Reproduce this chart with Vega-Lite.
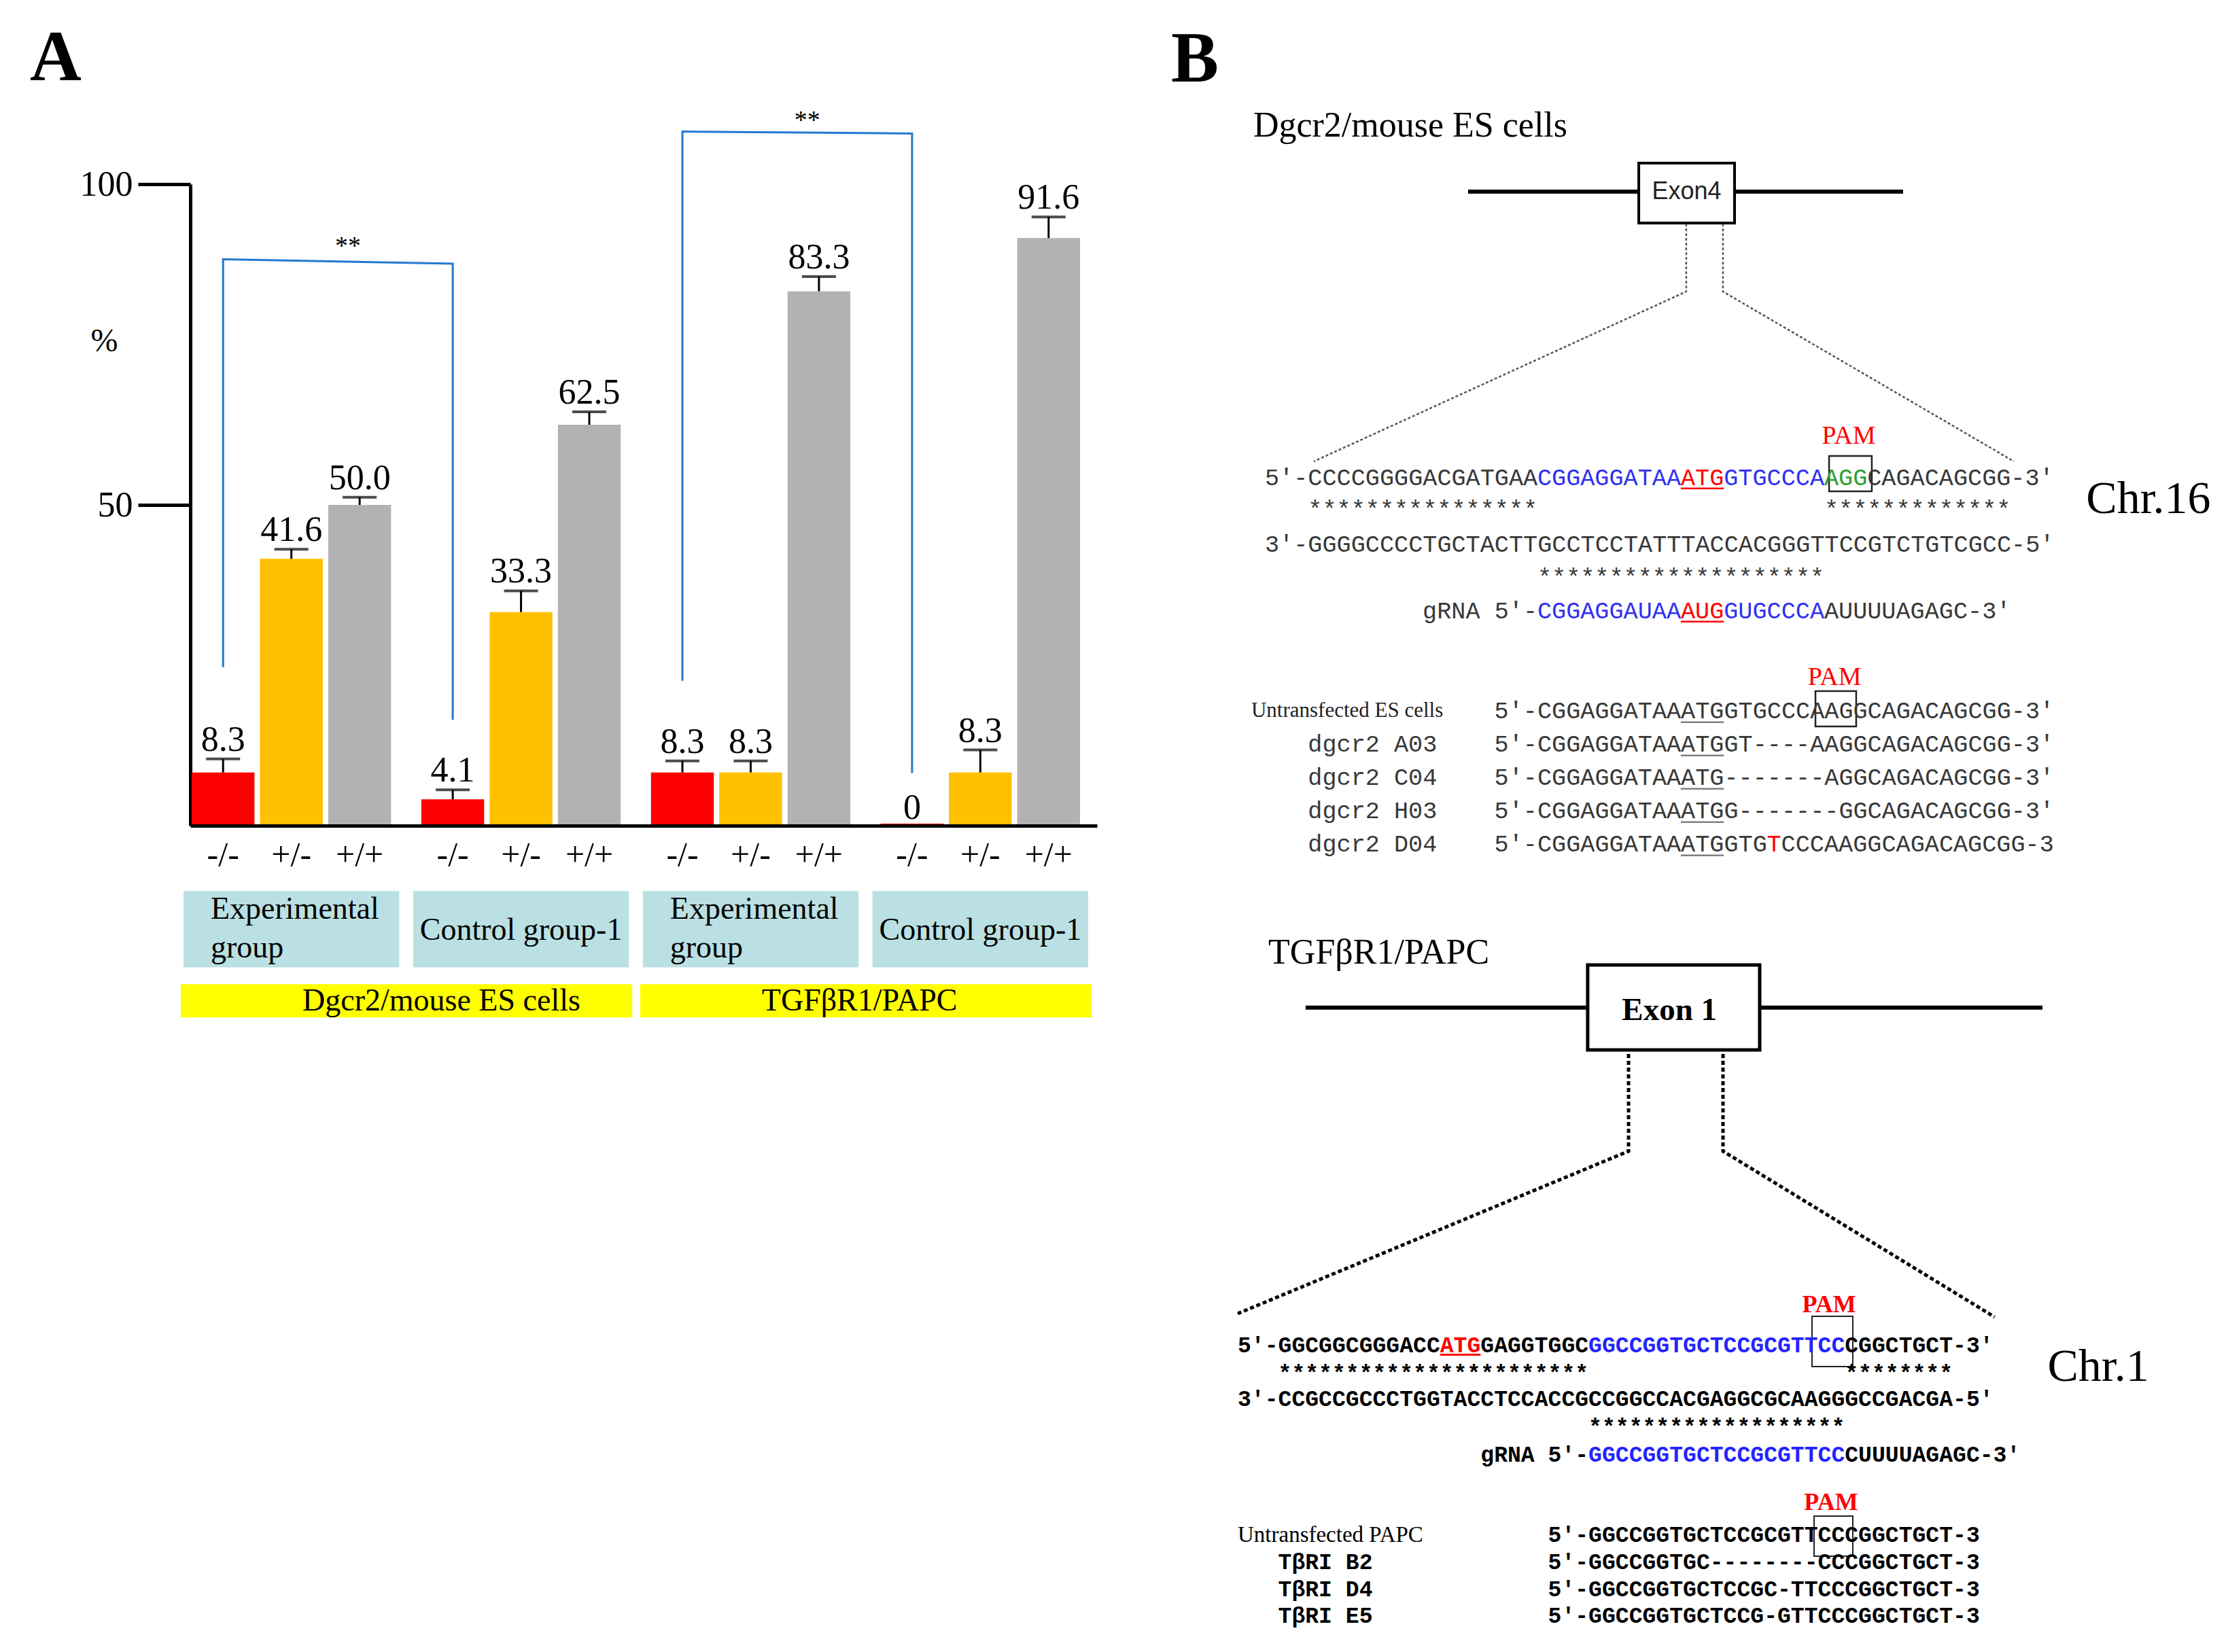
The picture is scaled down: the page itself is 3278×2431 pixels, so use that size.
{
  "$schema": "https://vega.github.io/schema/vega-lite/v6.json",
  "width": 3278,
  "height": 2431,
  "autosize": {"type": "fit", "contains": "padding"},
  "padding": 0,
  "background": "white",
  "config": {"view": {"stroke": null}, "font": "Liberation Serif"},
  "datasets": {
    "bars": [
      {"group": "D-Exp", "geno": "-/-", "pct": 8.3, "cap": 10.4, "label": "8.3"},
      {"group": "D-Exp", "geno": "+/-", "pct": 41.6, "cap": 43.1, "label": "41.6"},
      {"group": "D-Exp", "geno": "+/+", "pct": 50.0, "cap": 51.2, "label": "50.0"},
      {"group": "D-Ctrl", "geno": "-/-", "pct": 4.1, "cap": 5.6, "label": "4.1"},
      {"group": "D-Ctrl", "geno": "+/-", "pct": 33.3, "cap": 36.6, "label": "33.3"},
      {"group": "D-Ctrl", "geno": "+/+", "pct": 62.5, "cap": 64.5, "label": "62.5"},
      {"group": "T-Exp", "geno": "-/-", "pct": 8.3, "cap": 10.1, "label": "8.3"},
      {"group": "T-Exp", "geno": "+/-", "pct": 8.3, "cap": 10.1, "label": "8.3"},
      {"group": "T-Exp", "geno": "+/+", "pct": 83.3, "cap": 85.6, "label": "83.3"},
      {"group": "T-Ctrl", "geno": "-/-", "pct": 0, "cap": null, "label": "0"},
      {"group": "T-Ctrl", "geno": "+/-", "pct": 8.3, "cap": 11.8, "label": "8.3"},
      {"group": "T-Ctrl", "geno": "+/+", "pct": 91.6, "cap": 94.9, "label": "91.6"}
    ],
    "groups": [
      {"group": "D-Exp", "name": "Experimental\ngroup", "kind": "exp"},
      {"group": "D-Ctrl", "name": "Control group-1", "kind": "ctrl"},
      {"group": "T-Exp", "name": "Experimental\ngroup", "kind": "exp"},
      {"group": "T-Ctrl", "name": "Control group-1", "kind": "ctrl"}
    ],
    "sets": [
      {"set": "Dgcr2/mouse ES cells", "first": "D-Exp", "last": "D-Ctrl"},
      {"set": "TGFβR1/PAPC", "first": "T-Exp", "last": "T-Ctrl"}
    ],
    "brackets": [
      {"b": 1, "seq": 0, "group": "D-Exp", "geno": "-/-", "v": 24.7},
      {"b": 1, "seq": 1, "group": "D-Exp", "geno": "-/-", "v": 88.3},
      {"b": 1, "seq": 2, "group": "D-Ctrl", "geno": "-/-", "v": 87.6},
      {"b": 1, "seq": 3, "group": "D-Ctrl", "geno": "-/-", "v": 16.5},
      {"b": 2, "seq": 0, "group": "T-Exp", "geno": "-/-", "v": 22.6},
      {"b": 2, "seq": 1, "group": "T-Exp", "geno": "-/-", "v": 108.2},
      {"b": 2, "seq": 2, "group": "T-Ctrl", "geno": "-/-", "v": 107.9},
      {"b": 2, "seq": 3, "group": "T-Ctrl", "geno": "-/-", "v": 8.2}
    ],
    "signif": [
      {"group": "D-Exp", "v": 91.1, "t": "**"},
      {"group": "T-Exp", "v": 110.7, "t": "**"}
    ],
    "btSeq": [
      {"row": 0, "col": 0, "s": "5′-CCCCGGGGACGATGAA", "role": "flank"},
      {"row": 0, "col": 19, "s": "CGGAGGATAA", "role": "spacer"},
      {"row": 0, "col": 29, "s": "ATG", "role": "atg"},
      {"row": 0, "col": 32, "s": "GTGCCCA", "role": "spacer"},
      {"row": 0, "col": 39, "s": "AGG", "role": "pam"},
      {"row": 0, "col": 42, "s": "CAGACAGCGG-3′", "role": "flank"},
      {"row": 0.95, "col": 3, "s": "****************", "role": "match"},
      {"row": 0.95, "col": 39, "s": "*************", "role": "match"},
      {"row": 2, "col": 0, "s": "3′-GGGGCCCCTGCTACTTGCCTCCTATTTACCACGGGTTCCGTCTGTCGCC-5′", "role": "flank"},
      {"row": 3.0, "col": 19, "s": "********************", "role": "match"},
      {"row": 4, "col": 11, "s": "gRNA 5′-", "role": "flank"},
      {"row": 4, "col": 19, "s": "CGGAGGAUAA", "role": "spacer"},
      {"row": 4, "col": 29, "s": "AUG", "role": "atg"},
      {"row": 4, "col": 32, "s": "GUGCCCA", "role": "spacer"},
      {"row": 4, "col": 39, "s": "AUUUUAGAGC-3′", "role": "flank"},
      {"row": 7, "col": 16, "s": "5′-CGGAGGATAAATGGTGCCCAAGGCAGACAGCGG-3′", "role": "flank"},
      {"row": 8, "col": 3, "s": "dgcr2 A03", "role": "flank"},
      {"row": 8, "col": 16, "s": "5′-CGGAGGATAAATGGT----AAGGCAGACAGCGG-3′", "role": "flank"},
      {"row": 9, "col": 3, "s": "dgcr2 C04", "role": "flank"},
      {"row": 9, "col": 16, "s": "5′-CGGAGGATAAATG-------AGGCAGACAGCGG-3′", "role": "flank"},
      {"row": 10, "col": 3, "s": "dgcr2 H03", "role": "flank"},
      {"row": 10, "col": 16, "s": "5′-CGGAGGATAAATGG-------GGCAGACAGCGG-3′", "role": "flank"},
      {"row": 11, "col": 3, "s": "dgcr2 D04", "role": "flank"},
      {"row": 11, "col": 16, "s": "5′-CGGAGGATAAATGGTG", "role": "flank"},
      {"row": 11, "col": 35, "s": "T", "role": "mut"},
      {"row": 11, "col": 36, "s": "CCCAAGGCAGACAGCGG-3", "role": "flank"}
    ],
    "btUnder": [
      {"row": 0.32, "start": 29, "end": 32, "role": "atg"},
      {"row": 4.32, "start": 29, "end": 32, "role": "atg"},
      {"row": 7.34, "start": 29, "end": 32, "role": "mark"},
      {"row": 8.34, "start": 29, "end": 32, "role": "mark"},
      {"row": 9.34, "start": 29, "end": 32, "role": "mark"},
      {"row": 10.34, "start": 29, "end": 32, "role": "mark"},
      {"row": 11.34, "start": 29, "end": 32, "role": "mark"}
    ],
    "bbSeq": [
      {"row": 0, "col": 0, "s": "5′-GGCGGCGGGACC", "role": "flank"},
      {"row": 0, "col": 15, "s": "ATG", "role": "atg"},
      {"row": 0, "col": 18, "s": "GAGGTGGC", "role": "flank"},
      {"row": 0, "col": 26, "s": "GGCCGGTGCTCCGCGTTCC", "role": "spacer"},
      {"row": 0, "col": 45, "s": "CGGCTGCT-3′", "role": "flank"},
      {"row": 1.02, "col": 3, "s": "***********************", "role": "match"},
      {"row": 1.02, "col": 45, "s": "********", "role": "match"},
      {"row": 1.975, "col": 0, "s": "3′-CCGCCGCCCTGGTACCTCCACCGCCGGCCACGAGGCGCAAGGGCCGACGA-5′", "role": "flank"},
      {"row": 3.0, "col": 26, "s": "*******************", "role": "match"},
      {"row": 4.03, "col": 18, "s": "gRNA 5′-", "role": "flank"},
      {"row": 4.03, "col": 26, "s": "GGCCGGTGCTCCGCGTTCC", "role": "spacer"},
      {"row": 4.03, "col": 45, "s": "CUUUUAGAGC-3′", "role": "flank"},
      {"row": 6.98, "col": 23, "s": "5′-GGCCGGTGCTCCGCGTTCCCGGCTGCT-3", "role": "flank"},
      {"row": 7.98, "col": 3, "s": "TβRI B2", "role": "flank"},
      {"row": 7.98, "col": 23, "s": "5′-GGCCGGTGC--------CCCGGCTGCT-3", "role": "flank"},
      {"row": 8.98, "col": 3, "s": "TβRI D4", "role": "flank"},
      {"row": 8.98, "col": 23, "s": "5′-GGCCGGTGCTCCGC-TTCCCGGCTGCT-3", "role": "flank"},
      {"row": 9.95, "col": 3, "s": "TβRI E5", "role": "flank"},
      {"row": 9.95, "col": 23, "s": "5′-GGCCGGTGCTCCG-GTTCCCGGCTGCT-3", "role": "flank"}
    ]
  },
  "layer": [
    {
      "layer": [
        {
          "data": {"name": "groups"},
          "mark": {"type": "rect", "color": "#bae0e3", "xOffset": -10, "x2Offset": 10},
          "encoding": {
            "x": {"field": "group", "type": "nominal", "bandPosition": 0,
              "scale": {"type": "band", "domain": ["D-Exp", "D-Ctrl", "T-Exp", "T-Ctrl"], "range": [280, 1614], "paddingInner": 0.12, "paddingOuter": 0.034, "align": 0},
              "axis": {"orient": "top", "offset": -1215, "labels": false, "ticks": false, "title": null, "domainWidth": 5, "domainColor": "black", "grid": false}},
            "x2": {"field": "group", "bandPosition": 1},
            "y": {"datum": -10.2, "type": "quantitative",
              "scale": {"type": "linear", "domain": [0, 100], "range": [1215, 271], "nice": false, "zero": false},
              "axis": {"orient": "left", "offset": -280, "values": [50, 100], "title": "%", "titleAngle": 0, "titleX": -127, "titleY": 502, "titleFont": "Liberation Serif", "titleFontSize": 48, "titleFontWeight": "normal", "titleColor": "black", "titleAlign": "center", "titleBaseline": "middle", "labelFont": "Liberation Serif", "labelFontSize": 52, "labelColor": "black", "labelPadding": 8, "tickSize": 77, "tickWidth": 5, "tickColor": "black", "domainWidth": 5, "domainColor": "black", "grid": false, "labelFlush": false, "labelOverlap": false}},
            "y2": {"datum": -22.1}
          }
        },
        {
          "data": {"name": "sets"},
          "mark": {"type": "rect", "color": "#ffff00", "xOffset": -14, "x2Offset": 15},
          "encoding": {
            "x": {"field": "first", "type": "nominal", "bandPosition": 0},
            "x2": {"field": "last", "bandPosition": 1},
            "y": {"datum": -24.7, "type": "quantitative"},
            "y2": {"datum": -29.9}
          }
        },
        {
          "data": {"name": "sets"},
          "mark": {"type": "text", "font": "Liberation Serif", "fontSize": 46, "align": "left", "baseline": "middle", "color": "black"},
          "encoding": {
            "x": {"field": "first", "type": "nominal", "bandPosition": 0.555},
            "y": {"datum": -27.3, "type": "quantitative"},
            "text": {"field": "set"}
          }
        },
        {
          "data": {"name": "groups"},
          "transform": [{"filter": "datum.kind == 'exp'"}],
          "mark": {"type": "text", "font": "Liberation Serif", "fontSize": 46, "align": "left", "baseline": "middle", "lineBreak": "\n", "lineHeight": 57, "dx": 30, "color": "black"},
          "encoding": {
            "x": {"field": "group", "type": "nominal", "bandPosition": 0},
            "y": {"datum": -13.0, "type": "quantitative"},
            "text": {"field": "name"}
          }
        },
        {
          "data": {"name": "groups"},
          "transform": [{"filter": "datum.kind == 'ctrl'"}],
          "mark": {"type": "text", "font": "Liberation Serif", "fontSize": 46, "align": "center", "baseline": "middle", "color": "black"},
          "encoding": {
            "x": {"field": "group", "type": "nominal", "bandPosition": 0.5},
            "y": {"datum": -16.3, "type": "quantitative"},
            "text": {"field": "name"}
          }
        },
        {
          "data": {"name": "brackets"},
          "mark": {"type": "line", "color": "#2379cf", "strokeWidth": 3},
          "encoding": {
            "x": {"field": "group", "type": "nominal"},
            "xOffset": {"field": "geno", "type": "nominal"},
            "y": {"field": "v", "type": "quantitative"},
            "detail": {"field": "b"},
            "order": {"field": "seq"}
          }
        },
        {
          "data": {"name": "signif"},
          "mark": {"type": "text", "font": "Liberation Serif", "fontSize": 38, "align": "center", "baseline": "middle", "dy": 8, "color": "black"},
          "encoding": {
            "x": {"field": "group", "type": "nominal", "bandPosition": 0.78},
            "y": {"field": "v", "type": "quantitative"},
            "text": {"field": "t"}
          }
        },
        {
          "data": {"name": "bars"},
          "mark": {"type": "bar"},
          "encoding": {
            "x": {"field": "group", "type": "nominal"},
            "xOffset": {"field": "geno", "type": "nominal", "scale": {"type": "band", "domain": ["-/-", "+/-", "+/+"], "paddingInner": 0.08, "paddingOuter": 0.02}},
            "y": {"field": "pct", "type": "quantitative"},
            "color": {"field": "geno", "type": "nominal", "scale": {"domain": ["-/-", "+/-", "+/+"], "range": ["#ff0000", "#ffc000", "#b2b2b2"]}, "legend": null},
            "stroke": {"field": "geno", "type": "nominal", "scale": {"domain": ["-/-", "+/-", "+/+"], "range": ["#ff0000", "#ffc000", "#b2b2b2"]}, "legend": null},
            "strokeWidth": {"condition": {"test": "datum.pct === 0", "value": 6}, "value": 0}
          }
        },
        {
          "data": {"name": "bars"},
          "transform": [{"filter": "datum.cap != null"}],
          "mark": {"type": "rule", "color": "black", "strokeWidth": 3},
          "encoding": {
            "x": {"field": "group", "type": "nominal"},
            "xOffset": {"field": "geno", "type": "nominal"},
            "y": {"field": "pct", "type": "quantitative"},
            "y2": {"field": "cap"}
          }
        },
        {
          "data": {"name": "bars"},
          "transform": [{"filter": "datum.cap != null"}],
          "mark": {"type": "tick", "color": "black", "thickness": 4, "size": 50},
          "encoding": {
            "x": {"field": "group", "type": "nominal"},
            "xOffset": {"field": "geno", "type": "nominal"},
            "y": {"field": "cap", "type": "quantitative"}
          }
        },
        {
          "data": {"name": "bars"},
          "transform": [{"filter": "datum.cap != null"}],
          "mark": {"type": "text", "font": "Liberation Serif", "fontSize": 52, "align": "center", "baseline": "alphabetic", "dy": -12, "color": "black"},
          "encoding": {
            "x": {"field": "group", "type": "nominal"},
            "xOffset": {"field": "geno", "type": "nominal"},
            "y": {"field": "cap", "type": "quantitative"},
            "text": {"field": "label"}
          }
        },
        {
          "data": {"name": "bars"},
          "transform": [{"filter": "datum.cap == null"}],
          "mark": {"type": "text", "font": "Liberation Serif", "fontSize": 52, "align": "center", "baseline": "alphabetic", "dy": -10, "color": "black"},
          "encoding": {
            "x": {"field": "group", "type": "nominal"},
            "xOffset": {"field": "geno", "type": "nominal"},
            "y": {"field": "pct", "type": "quantitative"},
            "text": {"field": "label"}
          }
        },
        {
          "data": {"name": "bars"},
          "mark": {"type": "text", "font": "Liberation Serif", "fontSize": 50, "align": "center", "baseline": "middle", "dy": 44, "color": "black"},
          "encoding": {
            "x": {"field": "group", "type": "nominal"},
            "xOffset": {"field": "geno", "type": "nominal"},
            "y": {"datum": 0, "type": "quantitative"},
            "text": {"field": "geno"}
          }
        }
      ]
    },
    {
      "layer": [
        {
          "data": {"values": [{"start": 14.17, "end": 44.5, "row": -8.59}]},
          "mark": {"type": "rule", "strokeWidth": 6, "color": "black"},
          "encoding": {
            "x": {"field": "start", "type": "quantitative", "scale": {"domain": [0, 60], "range": [1861, 3127], "nice": false, "zero": false}, "axis": null},
            "x2": {"field": "end"},
            "y": {"field": "row", "type": "quantitative", "scale": {"domain": [0, 10], "range": [703, 1193], "nice": false, "zero": false}, "axis": null}
          }
        },
        {
          "data": {"values": [{"start": 26.07, "end": 32.75, "top": -9.45, "bottom": -7.65}]},
          "mark": {"type": "rect", "fill": "white", "stroke": "black", "strokeWidth": 4},
          "encoding": {
            "x": {"field": "start", "type": "quantitative"},
            "x2": {"field": "end"},
            "y": {"field": "top", "type": "quantitative"},
            "y2": {"field": "bottom"}
          }
        },
        {
          "data": {"values": [{"col": 29.41, "row": -8.59, "t": "Exon4"}]},
          "mark": {"type": "text", "font": "Liberation Sans", "fontSize": 36, "align": "center", "baseline": "middle", "color": "#222222"},
          "encoding": {
            "x": {"field": "col", "type": "quantitative"},
            "y": {"field": "row", "type": "quantitative"},
            "text": {"field": "t"}
          }
        },
        {
          "data": {"values": [
            {"side": "L", "i": 0, "col": 29.38, "row": -7.63},
            {"side": "L", "i": 1, "col": 29.38, "row": -5.59},
            {"side": "L", "i": 2, "col": 3.41, "row": -0.49},
            {"side": "R", "i": 0, "col": 31.94, "row": -7.63},
            {"side": "R", "i": 1, "col": 31.94, "row": -5.59},
            {"side": "R", "i": 2, "col": 52.23, "row": -0.49}
          ]},
          "mark": {"type": "line", "color": "#555555", "strokeWidth": 2.5, "strokeDash": [4, 3]},
          "encoding": {
            "x": {"field": "col", "type": "quantitative"},
            "y": {"field": "row", "type": "quantitative"},
            "detail": {"field": "side"},
            "order": {"field": "i"}
          }
        },
        {
          "data": {"values": [
            {"start": 39.34, "end": 42.32, "top": -0.653, "bottom": 0.408},
            {"start": 38.39, "end": 41.23, "top": 6.41, "bottom": 7.47}
          ]},
          "mark": {"type": "rect", "filled": false, "stroke": "#222222", "strokeWidth": 2.5},
          "encoding": {
            "x": {"field": "start", "type": "quantitative"},
            "x2": {"field": "end"},
            "y": {"field": "top", "type": "quantitative"},
            "y2": {"field": "bottom"}
          }
        },
        {
          "data": {"values": [
            {"col": 40.71, "row": -1.245, "t": "PAM"},
            {"col": 39.72, "row": 6.0, "t": "PAM"}
          ]},
          "mark": {"type": "text", "font": "Liberation Serif", "fontSize": 38, "align": "center", "baseline": "middle", "color": "#ff0000"},
          "encoding": {
            "x": {"field": "col", "type": "quantitative"},
            "y": {"field": "row", "type": "quantitative"},
            "text": {"field": "t"}
          }
        },
        {
          "data": {"name": "btUnder"},
          "mark": {"type": "rule", "strokeWidth": 2.5},
          "encoding": {
            "x": {"field": "start", "type": "quantitative"},
            "x2": {"field": "end"},
            "y": {"field": "row", "type": "quantitative"},
            "color": {"field": "role", "type": "nominal", "scale": {"domain": ["flank", "spacer", "atg", "pam", "mut", "match", "mark"], "range": ["#383838", "#3030f0", "#ff0000", "#2ca02c", "#ff0000", "#383838", "#808080"]}, "legend": null}
          }
        },
        {
          "data": {"name": "btSeq"},
          "mark": {"type": "text", "font": "Liberation Mono", "fontSize": 35.2, "align": "left", "baseline": "middle"},
          "encoding": {
            "x": {"field": "col", "type": "quantitative"},
            "y": {"field": "row", "type": "quantitative"},
            "text": {"field": "s"},
            "color": {"field": "role", "type": "nominal", "legend": null}
          }
        },
        {
          "data": {"values": [
            {"col": -0.81, "row": -10.57, "t": "Dgcr2/mouse  ES cells"}
          ]},
          "mark": {"type": "text", "font": "Liberation Serif", "fontSize": 52, "align": "left", "baseline": "middle", "color": "black"},
          "encoding": {
            "x": {"field": "col", "type": "quantitative"},
            "y": {"field": "row", "type": "quantitative"},
            "text": {"field": "t"}
          }
        },
        {
          "data": {"values": [
            {"col": -0.95, "row": 7, "t": "Untransfected ES cells"}
          ]},
          "mark": {"type": "text", "font": "Liberation Serif", "fontSize": 31, "align": "left", "baseline": "middle", "color": "#222222"},
          "encoding": {
            "x": {"field": "col", "type": "quantitative"},
            "y": {"field": "row", "type": "quantitative"},
            "text": {"field": "t"}
          }
        },
        {
          "data": {"values": [
            {"col": 61.61, "row": 0.653, "t": "Chr.16"}
          ]},
          "mark": {"type": "text", "font": "Liberation Serif", "fontSize": 68, "align": "center", "baseline": "middle", "color": "black"},
          "encoding": {
            "x": {"field": "col", "type": "quantitative"},
            "y": {"field": "row", "type": "quantitative"},
            "text": {"field": "t"}
          }
        }
      ]
    },
    {
      "layer": [
        {
          "data": {"values": [{"start": 5.04, "end": 59.65, "row": -12.43}]},
          "mark": {"type": "rule", "strokeWidth": 6, "color": "black"},
          "encoding": {
            "x": {"field": "start", "type": "quantitative", "scale": {"domain": [0, 60], "range": [1821, 3012], "nice": false, "zero": false}, "axis": null},
            "x2": {"field": "end"},
            "y": {"field": "row", "type": "quantitative", "scale": {"domain": [0, 10], "range": [1980, 2380], "nice": false, "zero": false}, "axis": null}
          }
        },
        {
          "data": {"values": [{"start": 25.94, "end": 38.69, "top": -14.0, "bottom": -10.875}]},
          "mark": {"type": "rect", "fill": "white", "stroke": "black", "strokeWidth": 5},
          "encoding": {
            "x": {"field": "start", "type": "quantitative"},
            "x2": {"field": "end"},
            "y": {"field": "top", "type": "quantitative"},
            "y2": {"field": "bottom"}
          }
        },
        {
          "data": {"values": [{"col": 32.0, "row": -12.33, "t": "Exon 1"}]},
          "mark": {"type": "text", "font": "Liberation Serif", "fontWeight": "bold", "fontSize": 47, "align": "center", "baseline": "middle", "color": "black"},
          "encoding": {
            "x": {"field": "col", "type": "quantitative"},
            "y": {"field": "row", "type": "quantitative"},
            "text": {"field": "t"}
          }
        },
        {
          "data": {"values": [
            {"side": "L", "i": 0, "col": 28.97, "row": -10.725},
            {"side": "L", "i": 1, "col": 28.97, "row": -7.15},
            {"side": "L", "i": 2, "col": 0, "row": -1.175},
            {"side": "R", "i": 0, "col": 35.97, "row": -10.725},
            {"side": "R", "i": 1, "col": 35.97, "row": -7.15},
            {"side": "R", "i": 2, "col": 56.1, "row": -1.05}
          ]},
          "mark": {"type": "line", "color": "black", "strokeWidth": 5, "strokeDash": [6, 4]},
          "encoding": {
            "x": {"field": "col", "type": "quantitative"},
            "y": {"field": "row", "type": "quantitative"},
            "detail": {"field": "side"},
            "order": {"field": "i"}
          }
        },
        {
          "data": {"values": [
            {"start": 42.57, "end": 45.59, "top": -1.075, "bottom": 0.775},
            {"start": 42.72, "end": 45.59, "top": 6.275, "bottom": 7.75}
          ]},
          "mark": {"type": "rect", "filled": false, "stroke": "#222222", "strokeWidth": 2},
          "encoding": {
            "x": {"field": "start", "type": "quantitative"},
            "x2": {"field": "end"},
            "y": {"field": "top", "type": "quantitative"},
            "y2": {"field": "bottom"}
          }
        },
        {
          "data": {"values": [
            {"col": 43.83, "row": -1.5, "t": "PAM"},
            {"col": 43.98, "row": 5.78, "t": "PAM"}
          ]},
          "mark": {"type": "text", "font": "Liberation Serif", "fontWeight": "bold", "fontSize": 36, "align": "center", "baseline": "middle", "color": "#ff0000"},
          "encoding": {
            "x": {"field": "col", "type": "quantitative"},
            "y": {"field": "row", "type": "quantitative"},
            "text": {"field": "t"}
          }
        },
        {
          "data": {"values": [{"row": 0.34, "start": 15, "end": 18, "role": "atg"}]},
          "mark": {"type": "rule", "strokeWidth": 3},
          "encoding": {
            "x": {"field": "start", "type": "quantitative"},
            "x2": {"field": "end"},
            "y": {"field": "row", "type": "quantitative"},
            "color": {"field": "role", "type": "nominal", "scale": {"domain": ["flank", "spacer", "atg", "match"], "range": ["#000000", "#2424ff", "#ff0000", "#000000"]}, "legend": null}
          }
        },
        {
          "data": {"name": "bbSeq"},
          "mark": {"type": "text", "font": "Liberation Mono", "fontWeight": "bold", "fontSize": 33.1, "align": "left", "baseline": "middle"},
          "encoding": {
            "x": {"field": "col", "type": "quantitative"},
            "y": {"field": "row", "type": "quantitative"},
            "text": {"field": "s"},
            "color": {"field": "role", "type": "nominal", "legend": null}
          }
        },
        {
          "data": {"values": [{"col": 2.27, "row": -14.45, "t": "TGFβR1/PAPC"}]},
          "mark": {"type": "text", "font": "Liberation Serif", "fontSize": 52, "align": "left", "baseline": "middle", "color": "black"},
          "encoding": {
            "x": {"field": "col", "type": "quantitative"},
            "y": {"field": "row", "type": "quantitative"},
            "text": {"field": "t"}
          }
        },
        {
          "data": {"values": [{"col": 0, "row": 6.98, "t": "Untransfected PAPC"}]},
          "mark": {"type": "text", "font": "Liberation Serif", "fontSize": 33, "align": "left", "baseline": "middle", "color": "black"},
          "encoding": {
            "x": {"field": "col", "type": "quantitative"},
            "y": {"field": "row", "type": "quantitative"},
            "text": {"field": "t"}
          }
        },
        {
          "data": {"values": [{"col": 63.78, "row": 0.8, "t": "Chr.1"}]},
          "mark": {"type": "text", "font": "Liberation Serif", "fontSize": 68, "align": "center", "baseline": "middle", "color": "black"},
          "encoding": {
            "x": {"field": "col", "type": "quantitative"},
            "y": {"field": "row", "type": "quantitative"},
            "text": {"field": "t"}
          }
        }
      ]
    },
    {
      "data": {"values": [
        {"fx": 0.025, "fy": 0.0354, "t": "A"},
        {"fx": 0.5363, "fy": 0.036, "t": "B"}
      ]},
      "mark": {"type": "text", "font": "Liberation Serif", "fontWeight": "bold", "fontSize": 105, "align": "center", "baseline": "middle", "color": "black"},
      "encoding": {
        "x": {"field": "fx", "type": "quantitative", "scale": {"domain": [0, 1], "range": [0, 3278], "nice": false, "zero": false}, "axis": null},
        "y": {"field": "fy", "type": "quantitative", "scale": {"domain": [0, 1], "range": [0, 2431], "nice": false, "zero": false}, "axis": null},
        "text": {"field": "t"}
      }
    }
  ],
  "resolve": {"scale": {"x": "independent", "y": "independent", "color": "independent", "stroke": "independent"}}
}
